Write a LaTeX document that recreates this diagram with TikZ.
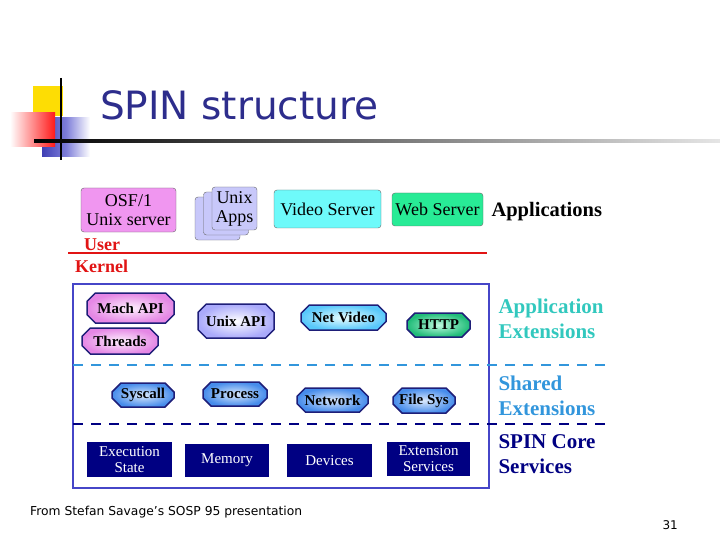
\documentclass[tikz,border=0pt]{standalone}
\usepackage{fontspec}
\setmainfont{Liberation Serif}
\newfontfamily\titlefont{DejaVu Sans}
\usepackage{tikz}
\usetikzlibrary{shapes.misc}

\definecolor{titleblue}{RGB}{45,45,140}
\definecolor{osfpink}{RGB}{240,150,240}
\definecolor{applav}{RGB}{200,200,250}
\definecolor{vidcyan}{RGB}{110,250,250}
\definecolor{webgreen}{RGB}{40,235,150}
\definecolor{userred}{RGB}{225,20,20}
\definecolor{framblue}{RGB}{70,70,200}
\definecolor{shareblue}{RGB}{50,150,220}
\definecolor{corenavy}{RGB}{0,0,130}
\definecolor{appteal}{RGB}{50,200,190}
\definecolor{btnedge}{RGB}{30,30,120}
\definecolor{sysblue}{RGB}{70,140,235}

\begin{document}
\begin{tikzpicture}[x=1pt, y=-1pt,
        app/.style={draw=black!60, rectangle, rounded corners=3pt, align=center, inner sep=0pt, font=\fontsize{18}{19}\selectfont},
        button/.style={chamfered rectangle, chamfered rectangle xsep=6pt, draw=btnedge, line width=1.5pt, inner sep=0pt, font=\fontsize{15}{16}\selectfont\bfseries},
        core/.style={fill=corenavy, rectangle, inner sep=0pt, align=center, text=white, font=\fontsize{15}{16}\selectfont},
        layer/.style={anchor=west, align=left, font=\fontsize{21}{25}\selectfont\bfseries},
        sep/.style={line width=2.6pt, dash pattern=on 10pt off 8pt}
    ]
    \useasboundingbox (0,0) rectangle (720,540);

    % Title decoration
    \fill[yellow!80!orange] (33,86) rectangle (63,116);
    \shade[left color=framblue!90!black, right color=white, middle color=framblue!70] (42,118) rectangle (90,157);
    \shade[left color=white, right color=red!90] (10,113) rectangle (55,147);
    \draw[line width=2.5pt] (61,78) -- (61,160);
    \shade[left color=black, right color=black!10] (34,139.8) rectangle (720,142.2);
    \node[anchor=base west, inner sep=0pt, text=titleblue, font=\fontsize{39}{40}\titlefont] (title) at (100,120) {SPIN structure};

    % Applications
    \node[app, fill=osfpink, minimum width=95pt, minimum height=44pt] (osf) at (128.5,210) {OSF/1\\Unix server};
    \node[app, fill=applav, minimum width=45pt, minimum height=43pt] (apps3) at (217.5,218.5) {};
    \node[app, fill=applav, minimum width=45pt, minimum height=43pt] (apps2) at (226,213.5) {};
    \node[app, fill=applav, minimum width=45pt, minimum height=43pt] (apps) at (234.5,208.5) {Unix\\Apps};
    \node[app, fill=vidcyan, minimum width=107pt, minimum height=38pt] (video) at (327.5,209) {Video Server};
    \node[app, fill=webgreen, minimum width=91pt, minimum height=33pt] (web) at (437.5,209.5) {Web Server};
    \node[anchor=west, font=\fontsize{20.5}{22}\selectfont\bfseries] (applabel) at (488,212) {Applications};

    % User / Kernel boundary
    \node[anchor=west, text=userred, font=\fontsize{18}{19}\selectfont\bfseries, inner sep=0pt] (user) at (84,245) {User};
    \draw[userred, line width=2.6pt] (68,253) -- (487,253);
    \node[anchor=west, text=userred, font=\fontsize{18}{19}\selectfont\bfseries, inner sep=0pt] (kernel) at (75,266) {Kernel};

    % Kernel frame and separators
    \draw[framblue, line width=1.5pt] (73,284) rectangle (489,488);
    \draw[sep, shareblue] (73,365) -- (605,365);
    \draw[sep, corenavy] (73,424) -- (605,424);

    % Application extensions
    \node[button, inner color=osfpink!15, outer color=osfpink!90!violet, minimum width=87pt, minimum height=30pt] (mach) at (130.5,308) {Mach API};
    \node[button, inner color=osfpink!15, outer color=osfpink!90!violet, minimum width=76pt, minimum height=26pt] (threads) at (120,341) {Threads};
    \node[button, inner color=white, outer color=applav!85!blue, minimum width=76pt, minimum height=34pt] (unixapi) at (236,321) {Unix API};
    \node[button, inner color=vidcyan!15, outer color=vidcyan!80!blue, minimum width=85pt, minimum height=25pt] (netvideo) at (343.5,317.5) {Net Video};
    \node[button, inner color=webgreen!30, outer color=webgreen!80!black, minimum width=63pt, minimum height=24pt] (http) at (438.5,325) {HTTP};

    % Shared extensions
    \node[button, inner color=sysblue!20, outer color=sysblue, minimum width=62pt, minimum height=24pt] (syscall) at (143,395) {Syscall};
    \node[button, inner color=sysblue!20, outer color=sysblue, minimum width=64pt, minimum height=24pt] (process) at (235,394) {Process};
    \node[button, inner color=sysblue!20, outer color=sysblue, minimum width=71pt, minimum height=24pt] (network) at (332.5,400) {Network};
    \node[button, inner color=sysblue!20, outer color=sysblue, minimum width=62pt, minimum height=25pt] (filesys) at (424,400.5) {File Sys};

    % Core services
    \node[core, minimum width=85pt, minimum height=35pt] (exec) at (129.5,459.5) {Execution\\State};
    \node[core, minimum width=84pt, minimum height=33pt] (memory) at (227,460.5) {Memory};
    \node[core, minimum width=85pt, minimum height=33pt] (devices) at (329.5,460.5) {Devices};
    \node[core, minimum width=83pt, minimum height=34pt] (extsvc) at (428.5,459) {Extension\\Services};

    % Layer labels
    \node[layer, text=appteal] (appext) at (495,318.5) {Application\\Extensions};
    \node[layer, text=shareblue] (shared) at (495,395.5) {Shared\\Extensions};
    \node[layer, text=corenavy] (spincore) at (495,454.5) {SPIN Core\\Services};

    % Footer
    \node[anchor=base west, inner sep=0pt, font=\fontsize{12.3}{13}\titlefont] (source) at (30,515) {From Stefan Savage’s SOSP 95 presentation};
    \node[anchor=base east, inner sep=0pt, font=\fontsize{12}{12}\titlefont] (page) at (678,529) {31};
\end{tikzpicture}
\end{document}
